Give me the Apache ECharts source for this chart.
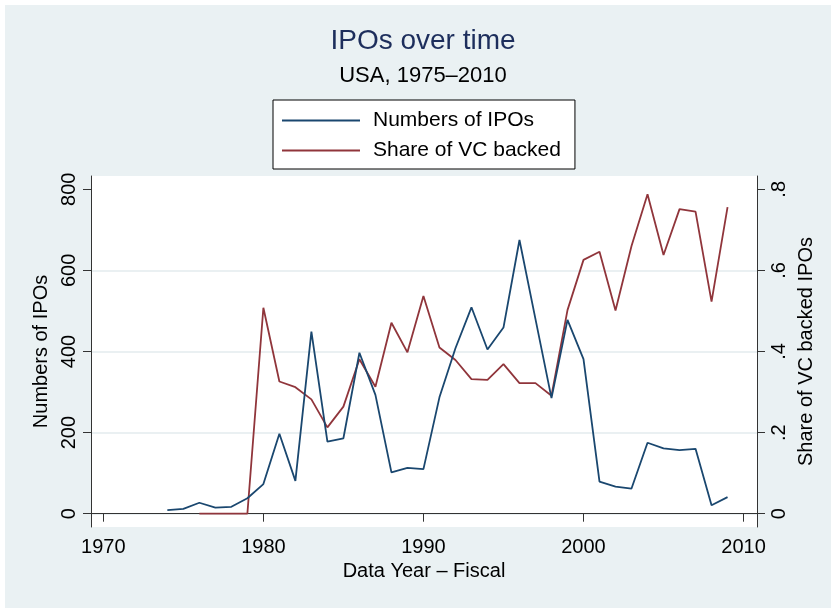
<!DOCTYPE html>
<html><head><meta charset="utf-8">
<script src="https://cdn.jsdelivr.net/npm/echarts@6/dist/echarts.min.js"></script>
<style>html,body{margin:0;padding:0;background:#fff}#c{width:831px;height:608px}</style>
</head><body><div id="c"></div>
<script>
const ipoYears = [1974,1975,1976,1977,1978,1979,1980,1981,1982,1983,1984,1985,1986,1987,1988,1989,1990,1991,1992,1993,1994,1995,1996,1997,1998,1999,2000,2001,2002,2003,2004,2005,2006,2007,2008,2009];
const ipoCounts = [9,12,27,15,17,38,73,197,81,449,178,186,397,293,102,113,110,287,408,509,405,459,675,480,285,478,381,79,67,62,175,161,157,160,21,41];
const shareYears = [1976,1977,1978,1979,1980,1981,1982,1983,1984,1985,1986,1987,1988,1989,1990,1991,1992,1993,1994,1995,1996,1997,1998,1999,2000,2001,2002,2003,2004,2005,2006,2007,2008,2009];
const vcShare = [0,0,0,0,0.508,0.326,0.312,0.282,0.213,0.264,0.381,0.313,0.471,0.398,0.537,0.410,0.379,0.332,0.330,0.369,0.322,0.322,0.291,0.502,0.626,0.646,0.501,0.660,0.788,0.638,0.751,0.745,0.523,0.756];
const xTicks = [1970,1980,1990,2000,2010];
const leftTicks = [0,200,400,600,800];
const leftGrid = [0,200,400,600];
const rightTicks = [0,0.2,0.4,0.6,0.8];

const FONT = "'Liberation Sans', Arial, Helvetica, sans-serif";
const chart = echarts.init(document.getElementById('c'), null, {renderer:'canvas'});
const axisCommon = {
  axisLine:{show:true, lineStyle:{color:'#333', width:1}},
  splitLine:{show:false},
  nameTextStyle:{fontFamily:FONT, fontSize:20, color:'#000'}
};
chart.setOption({
  backgroundColor:'#ffffff',
  animation:false,
  graphic:{elements:[{type:'rect', z:-10, silent:true, shape:{x:5,y:5,width:826,height:603}, style:{fill:'#eaf1f3'}}]},
  title:{
    text:'IPOs over time', subtext:'USA, 1975\u20132010',
    left:423, top:27, textAlign:'center', padding:0, itemGap:10,
    textStyle:{fontFamily:FONT, fontSize:28, fontWeight:'normal', color:'#1d2e5c'},
    subtextStyle:{fontFamily:FONT, fontSize:22, color:'#000'}
  },
  legend:{
    orient:'vertical', left:273, top:100,
    padding:[10,14,8,9], itemGap:9, itemWidth:78, itemHeight:2, icon:'rect',
    backgroundColor:'#fff', borderColor:'#000', borderWidth:1,
    textStyle:{fontFamily:FONT, fontSize:21, color:'#000', lineHeight:20, padding:[0,0,0,8]},
    data:['Numbers of IPOs','Share of VC backed']
  },
  grid:{left:91, right:74, top:176, bottom:81, show:true, backgroundColor:'#fff', borderWidth:0, containLabel:false, outerBoundsMode:'none'},
  xAxis:Object.assign({}, axisCommon, {
    type:'value', min:1969.23, max:2010.84,
    name:'Data Year \u2013 Fiscal', nameLocation:'middle', nameGap:34,
    axisTick:{show:true, length:8, lineStyle:{color:'#333'}, customValues:xTicks},
    axisLabel:{customValues:xTicks, fontFamily:FONT, fontSize:20, color:'#000', margin:10, formatter:v=>String(v)}
  }),
  yAxis:[
    Object.assign({}, axisCommon, {
      type:'value', position:'left', min:-32.8, max:832.8,
      name:'Numbers of IPOs', nameLocation:'middle', nameRotate:90, nameGap:40,
      axisTick:{show:true, length:8, lineStyle:{color:'#333'}, customValues:leftTicks},
      axisLabel:{customValues:leftTicks, rotate:90, fontFamily:FONT, fontSize:20, color:'#000', margin:12, formatter:v=>String(v)}
    }),
    Object.assign({}, axisCommon, {
      type:'value', position:'right', min:-0.0328, max:0.8328,
      name:'Share of VC backed IPOs', nameLocation:'middle', nameRotate:90, nameGap:38,
      axisTick:{show:true, length:8, lineStyle:{color:'#333'}, customValues:rightTicks},
      axisLabel:{customValues:rightTicks, rotate:90, fontFamily:FONT, fontSize:20, color:'#000', margin:12,
        formatter:v=>v===0?'0':String(v).replace(/^0/,'')}
    }),
    {
      type:'value', position:'left', min:-32.8, max:832.8, show:true,
      axisLine:{show:false}, axisLabel:{show:false},
      axisTick:{show:false, customValues:leftGrid},
      splitLine:{show:true, lineStyle:{color:'#e3ebee', width:1.5}}
    }
  ],
  series:[
    {name:'Numbers of IPOs', type:'line', yAxisIndex:0, symbol:'none', z:3,
     lineStyle:{color:'#1a476f', width:1.8}, itemStyle:{color:'#1a476f'},
     data:ipoYears.map((y,i)=>[y, ipoCounts[i]])},
    {name:'Share of VC backed', type:'line', yAxisIndex:1, symbol:'none', z:2,
     lineStyle:{color:'#90353b', width:1.8}, itemStyle:{color:'#90353b'},
     data:shareYears.map((y,i)=>[y, vcShare[i]])}
  ]
});
</script></body></html>
